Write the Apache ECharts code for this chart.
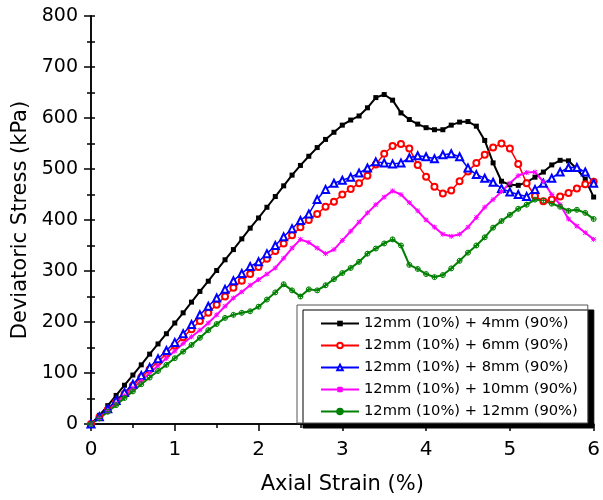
<!DOCTYPE html>
<html>
<head>
<meta charset="utf-8">
<script src="https://cdn.jsdelivr.net/npm/echarts@6/dist/echarts.min.js"></script>
<style>html,body{margin:0;padding:0;background:#fff}#c{width:603px;height:500px}</style>
</head>
<body>
<div id="c"></div>
<script>
var strain = [0.0,0.1,0.2,0.3,0.4,0.5,0.6,0.7,0.8,0.9,1.0,1.1,1.2,1.3,1.4,1.5,1.6,1.7,1.8,1.9,2.0,2.1,2.2,2.3,2.4,2.5,2.6,2.7,2.8,2.9,3.0,3.1,3.2,3.3,3.4,3.5,3.6,3.7,3.8,3.9,4.0,4.1,4.2,4.3,4.4,4.5,4.6,4.7,4.8,4.9,5.0,5.1,5.2,5.3,5.4,5.5,5.6,5.7,5.8,5.9,6.0];
var names = ['12mm (10%) + 4mm (90%)','12mm (10%) + 6mm (90%)','12mm (10%) + 8mm (90%)','12mm (10%) + 10mm (90%)','12mm (10%) + 12mm (90%)'];
var s4mm = [0,17,36,56,76,96,116,137,157,177,198,218,239,260,280,301,322,342,363,384,404,425,446,467,488,507,525,542,558,572,586,596,604,620,640,646,635,610,597,588,581,577,577,586,592,593,584,556,512,476,469,468,474,484,494,508,517,516,500,480,445];
var s6mm = [0,13,28,43,59,75,91,107,122,138,154,170,186,202,218,234,250,267,281,294,308,324,339,354,370,386,400,412,426,436,450,461,472,487,509,530,545,549,540,508,485,465,452,458,476,495,512,528,542,550,540,510,472,447,437,440,446,453,462,470,475];
var s8mm = [0,14,30,46,62,78,95,111,128,144,160,177,195,214,231,247,264,281,295,309,318,334,350,367,383,399,412,440,460,472,478,484,492,502,514,512,510,512,522,526,524,520,528,530,524,502,489,482,474,462,455,450,446,460,472,482,494,503,503,494,472];
var s10mm = [0,12,26,40,55,70,85,100,114,129,143,158,171,184,198,214,231,247,259,272,283,294,306,325,345,362,356,345,334,342,360,378,396,414,430,445,457,450,434,418,400,386,372,368,372,386,405,425,440,456,472,487,493,494,475,450,430,402,388,375,362];
var s12mm = [0,11,24,37,51,64,78,91,104,116,129,142,155,169,184,196,208,214,218,221,230,244,258,274,262,250,264,262,272,284,296,306,318,334,344,354,362,350,312,304,294,288,292,305,320,336,350,366,385,398,410,422,430,440,438,432,426,418,420,414,402];
var xTicks = [0,1,2,3,4,5,6];
var yTicks = [0,100,200,300,400,500,600,700,800];

function pairs(ys){ return strain.map(function(x,i){ return [x, ys[i]]; }); }

var FONT = 'DejaVu Sans';
var starPath = 'path://M0,0L10,10M10,0L0,10M5,-1L5,11M-1,5L11,5';
var crossCircle = 'path://M5,0A5,5 0 1,1 4.99,0ZM0,5L10,5M5,0L5,10';

var chart = echarts.init(document.getElementById('c'), null, {renderer:'canvas'});
var axisLine = {show:true, lineStyle:{color:'#000', width:1.5}};
var option = {
  animation:false,
  backgroundColor:'#fff',
  grid:{left:91, right:6, top:16, bottom:73},
  legend:{
    orient:'vertical', left:297, top:305,
    padding:[11,10,4,23],
    itemWidth:38, itemHeight:7, itemGap:7,
    backgroundColor:'#fff', borderColor:'#555', borderWidth:1,
    shadowColor:'#000', shadowBlur:0, shadowOffsetX:6, shadowOffsetY:5,
    textStyle:{fontFamily:FONT, fontSize:14.7, color:'#000', lineHeight:14},
    data:names
  },
  xAxis:[{
    type:'value', min:0, max:6, interval:1, position:'bottom',
    name:'Axial Strain (%)', nameLocation:'middle', nameGap:50,
    nameTextStyle:{fontFamily:FONT, fontSize:21, color:'#000'},
    axisLine:axisLine,
    axisTick:{show:true, inside:false, length:7, lineStyle:{color:'#000', width:1.5}},
    minorTick:{show:true, splitNumber:2, length:4, lineStyle:{color:'#000', width:1.5}},
    axisLabel:{fontFamily:FONT, fontSize:20, color:'#000', margin:16,
      formatter:function(v){ return xTicks.indexOf(v) >= 0 ? String(v) : ''; }},
    splitLine:{show:false}
  },{
    type:'value', min:0, max:6, interval:1, position:'top',
    axisLine:axisLine, axisTick:{show:false}, axisLabel:{show:false}, splitLine:{show:false}
  }],
  yAxis:[{
    type:'value', min:0, max:800, interval:100, position:'left',
    name:'Deviatoric Stress (kPa)', nameLocation:'middle', nameGap:58,
    nameTextStyle:{fontFamily:FONT, fontSize:21, color:'#000'},
    axisLine:axisLine,
    axisTick:{show:true, inside:false, length:7, lineStyle:{color:'#000', width:1.5}},
    minorTick:{show:true, splitNumber:2, length:4, lineStyle:{color:'#000', width:1.5}},
    axisLabel:{fontFamily:FONT, fontSize:19, color:'#000', margin:13,
      formatter:function(v){ return yTicks.indexOf(v) >= 0 ? String(v) : ''; }},
    splitLine:{show:false}
  },{
    type:'value', min:0, max:800, interval:100, position:'right',
    axisLine:axisLine,
    axisTick:{show:true, inside:false, length:4, lineStyle:{color:'#000', width:1.5}},
    minorTick:{show:true, splitNumber:2, length:4, lineStyle:{color:'#000', width:1.5}},
    axisLabel:{show:false}, splitLine:{show:false}
  }],
  series:[
    {name:names[0], type:'line', data:pairs(s4mm), symbol:'rect', symbolSize:5,
      lineStyle:{color:'#000', width:2}, itemStyle:{color:'#000'}},
    {name:names[1], type:'line', data:pairs(s6mm), symbol:'emptyCircle', symbolSize:6,
      lineStyle:{color:'#ff0000', width:1.5}, itemStyle:{color:'#ff0000', borderWidth:1}},
    {name:names[2], type:'line', data:pairs(s8mm), symbol:'emptyTriangle', symbolSize:7,
      lineStyle:{color:'#0000ff', width:1.5}, itemStyle:{color:'#0000ff', borderWidth:1}},
    {name:names[3], type:'line', data:pairs(s10mm), symbol:starPath, symbolSize:5,
      lineStyle:{color:'#ff00ff', width:2}, itemStyle:{color:'#ff00ff', borderColor:'#ff00ff', borderWidth:1}},
    {name:names[4], type:'line', data:pairs(s12mm), symbol:crossCircle, symbolSize:5,
      lineStyle:{color:'#008000', width:2}, itemStyle:{color:'rgba(0,0,0,0)', borderColor:'#008000', borderWidth:1}}
  ]
};
option.series.forEach(function(s){ s.showSymbol = true; s.showAllSymbol = true; s.z = 2; });
chart.setOption(option);
</script>
</body>
</html>
